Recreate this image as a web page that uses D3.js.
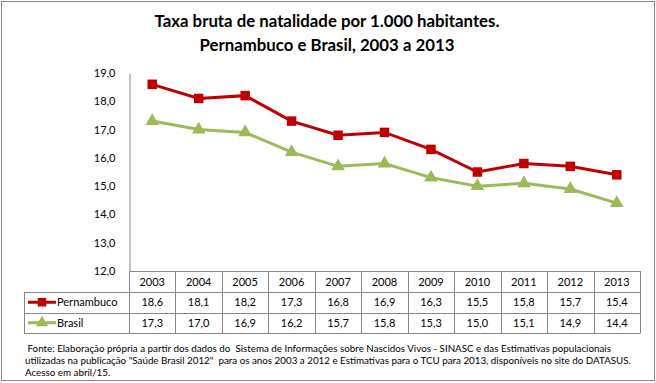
<!DOCTYPE html>
<html>
<head>
<meta charset="utf-8">
<script src="https://cdn.jsdelivr.net/npm/d3@7"></script>
<style>
	body { margin: 0; background: #fff; }
	text { font-family: Lato, "Open Sans", sans-serif; fill: #000; }
</style>
</head>
<body>
<svg id="chart" width="656" height="383"></svg>
<script>
// Data
const years = ["2003", "2004", "2005", "2006", "2007", "2008", "2009", "2010", "2011", "2012", "2013"]
const pernambuco = [18.6, 18.1, 18.2, 17.3, 16.8, 16.9, 16.3, 15.5, 15.8, 15.7, 15.4]
const brasil = [17.3, 17.0, 16.9, 16.2, 15.7, 15.8, 15.3, 15.0, 15.1, 14.9, 14.4]
const yTicks = [12, 13, 14, 15, 16, 17, 18, 19]
const titleLines = ["Taxa bruta de natalidade por 1.000 habitantes.", "Pernambuco e Brasil, 2003 a 2013"]
const noteLines = [
	" Fonte: Elaboração própria a partir dos dados do  Sistema de Informações sobre Nascidos Vivos - SINASC e das Estimativas populacionais",
	"utilizadas na publicação \"Saúde Brasil 2012\"  para os anos 2003 a 2012 e Estimativas para o TCU para 2013, disponíveis no site do DATASUS.",
	"Acesso em abril/15."
]

;(function() {
	let svg = d3.select("#chart")
	const fmt = v => d3.format(".1f")(v).replace(".", ",")
	const gridColor = "#868686"

	// outer frame
	svg.append("rect")
		.attr("x", 1.5).attr("y", 1.5)
		.attr("width", 653).attr("height", 379)
		.attr("fill", "none").attr("stroke", gridColor)

	// title
	svg.selectAll(".title").data(titleLines).enter().append("text")
		.attr("x", 327).attr("y", (d, i) => 27 + i * 24)
		.attr("text-anchor", "middle")
		.attr("font-size", 16.8).attr("font-weight", "bold")
		.text(d => d)

	let x = d3.scaleBand().domain(years).range([129, 640])
	let y = d3.scaleLinear().domain([12, 19]).range([271, 73])

	// y axis
	let yAxis = svg.append("g")
		.attr("transform", "translate(129.5,0)")
		.call(d3.axisLeft(y).tickValues(yTicks).tickSize(0).tickPadding(14).tickFormat(fmt))
	yAxis.select(".domain").attr("stroke", gridColor)
	yAxis.selectAll("text").attr("font-size", 11).attr("font-family", "Lato, sans-serif")

	const series = [
		{ name: "Pernambuco", values: pernambuco, color: "#C00000", marker: d3.symbolSquare, size: 90 },
		{ name: "Brasil", values: brasil, color: "#9BBB59", marker: d3.symbolTriangle, size: 80 }
	]

	let line = d3.line()
		.x((d, i) => x(years[i]) + x.bandwidth() / 2)
		.y(d => y(d))

	series.forEach(s => {
		svg.append("path")
			.datum(s.values)
			.attr("fill", "none")
			.attr("stroke", s.color)
			.attr("stroke-width", 3)
			.attr("d", line)
		svg.append("g").selectAll("path").data(s.values).enter().append("path")
			.attr("transform", (d, i) => `translate(${x(years[i]) + x.bandwidth() / 2},${y(d)})`)
			.attr("d", d3.symbol().type(s.marker).size(s.size))
			.attr("fill", s.color)
	})

	// data table
	const rowTop = [271, 292, 312.5, 333]
	let table = svg.append("g").attr("stroke", gridColor).attr("stroke-width", 1)
	// horizontal lines
	table.append("line").attr("x1", 129).attr("x2", 640.5).attr("y1", 271.5).attr("y2", 271.5)
	;[1, 2, 3].forEach(r => {
		table.append("line").attr("x1", 24).attr("x2", 640.5)
			.attr("y1", Math.round(rowTop[r]) + 0.5).attr("y2", Math.round(rowTop[r]) + 0.5)
	})
	// vertical lines
	years.forEach(yr => {
		table.append("line")
			.attr("x1", Math.round(x(yr)) + 0.5).attr("x2", Math.round(x(yr)) + 0.5)
			.attr("y1", 271).attr("y2", 333)
	})
	table.append("line").attr("x1", 640.5).attr("x2", 640.5).attr("y1", 271).attr("y2", 333)
	table.append("line").attr("x1", 24.5).attr("x2", 24.5).attr("y1", 292).attr("y2", 333)

	// header years
	svg.selectAll(".yr").data(years).enter().append("text")
		.attr("x", d => x(d) + x.bandwidth() / 2).attr("y", 286)
		.attr("text-anchor", "middle").attr("font-size", 11)
		.text(d => d)

	series.forEach((s, r) => {
		let cy = (rowTop[r + 1] + rowTop[r + 2]) / 2
		svg.append("g").selectAll("text").data(s.values).enter().append("text")
			.attr("x", (d, i) => x(years[i]) + x.bandwidth() / 2).attr("y", cy + 4)
			.attr("text-anchor", "middle").attr("font-size", 11)
			.text(d => fmt(d))
		// legend key
		svg.append("line")
			.attr("x1", 28).attr("x2", 56).attr("y1", cy).attr("y2", cy)
			.attr("stroke", s.color).attr("stroke-width", 3)
		svg.append("path")
			.attr("transform", `translate(42,${cy})`)
			.attr("d", d3.symbol().type(s.marker).size(s.size * 0.8))
			.attr("fill", s.color)
		svg.append("text")
			.attr("x", 57).attr("y", cy + 4).attr("font-size", 11)
			.text(s.name)
	})

	// footnote
	svg.selectAll(".note").data(noteLines).enter().append("text")
		.attr("x", 25).attr("y", (d, i) => 351.5 + i * 12.3)
		.attr("font-size", 9.8)
		.attr("xml:space", "preserve")
		.text(d => d)
})();
</script>
</body>
</html>
